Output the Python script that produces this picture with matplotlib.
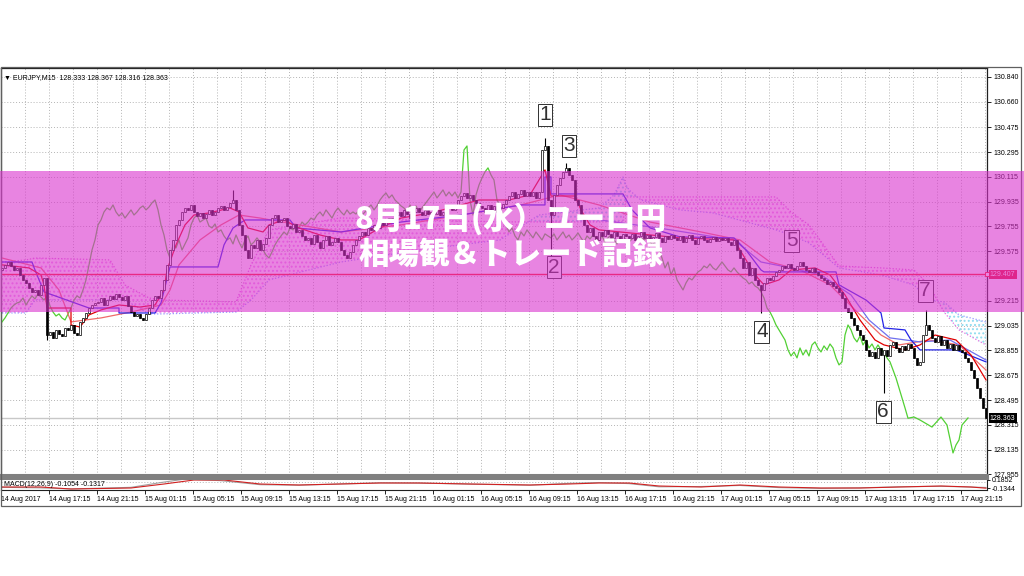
"""
plot.py

Redraws the EURJPY M15 screenshot (14-17 Aug 2017) with the pink
title band on top. All prices were read off the picture by eye.
"""
import numpy as np
import matplotlib
matplotlib.use("Agg")
import matplotlib.pyplot as plt
from matplotlib.patches import Rectangle

W, H = 1024, 576

# --- candles: M15 closes, one row = 4 hours = 16 bars ---
closes = [
    129.454, 129.476, 129.497, 129.468, 129.439, 129.454, 129.403, 129.367, 129.345, 129.309, 129.280, 129.294, 129.258, 129.331, 129.381, 128.967,
    128.990, 128.945, 129.004, 128.975, 128.960, 129.018, 129.004, 129.040, 128.982, 128.967, 129.062, 129.091, 129.127, 129.163, 129.185, 129.200,
    129.207, 129.236, 129.185, 129.221, 129.251, 129.229, 129.265, 129.243, 129.221, 129.251, 129.178, 129.134, 129.105, 129.120, 129.091, 129.076,
    129.120, 129.163, 129.221, 129.251, 129.236, 129.294, 129.367, 129.476, 129.584, 129.657, 129.766, 129.802, 129.860, 129.889, 129.875, 129.911,
    129.860, 129.831, 129.853, 129.816, 129.845, 129.875, 129.838, 129.860, 129.889, 129.904, 129.875, 129.896, 129.926, 129.947, 129.875, 129.766,
    129.693, 129.584, 129.526, 129.621, 129.599, 129.657, 129.584, 129.628, 129.672, 129.766, 129.816, 129.838, 129.787, 129.802, 129.816, 129.758,
    129.744, 129.773, 129.715, 129.730, 129.686, 129.657, 129.672, 129.628, 129.693, 129.642, 129.599, 129.657, 129.686, 129.621, 129.642, 129.672,
    129.642, 129.584, 129.548, 129.526, 129.570, 129.621, 129.657, 129.686, 129.715, 129.693, 129.744, 129.730, 129.766, 129.744, 129.787, 129.766,
    129.787, 129.816, 129.802, 129.838, 129.860, 129.831, 129.875, 129.845, 129.816, 129.860, 129.889, 129.860, 129.838, 129.875, 129.845, 129.860,
    129.845, 129.875, 129.838, 129.860, 129.889, 129.911, 129.875, 129.904, 129.947, 129.976, 129.998, 129.962, 129.984, 129.947, 129.926, 129.904,
    129.889, 129.860, 129.911, 129.875, 129.904, 129.860, 129.889, 129.918, 129.947, 129.976, 130.005, 129.962, 129.991, 130.020, 129.976, 130.005,
    129.976, 130.005, 129.962, 130.005, 130.310, 130.339, 129.947, 129.838, 129.984, 130.056, 130.107, 130.151, 130.180, 130.129, 130.092, 129.947,
    129.911, 129.816, 129.766, 129.715, 129.744, 129.686, 129.657, 129.715, 129.686, 129.730, 129.701, 129.672, 129.715, 129.686, 129.657, 129.701,
    129.686, 129.672, 129.701, 129.657, 129.686, 129.715, 129.672, 129.693, 129.657, 129.679, 129.708, 129.672, 129.642, 129.686, 129.664, 129.693,
    129.672, 129.657, 129.686, 129.642, 129.672, 129.693, 129.657, 129.628, 129.672, 129.686, 129.657, 129.642, 129.664, 129.679, 129.650, 129.672,
    129.657, 129.672, 129.642, 129.621, 129.657, 129.584, 129.526, 129.454, 129.497, 129.403, 129.454, 129.367, 129.331, 129.294, 129.345, 129.381,
    129.367, 129.396, 129.425, 129.439, 129.468, 129.454, 129.483, 129.454, 129.439, 129.468, 129.497, 129.468, 129.439, 129.425, 129.454, 129.425,
    129.403, 129.381, 129.367, 129.338, 129.352, 129.323, 129.309, 129.280, 129.236, 129.163, 129.134, 129.091, 129.040, 129.004, 128.967, 128.931,
    128.859, 128.815, 128.844, 128.801, 128.873, 128.822, 128.859, 128.815, 128.895, 128.917, 128.873, 128.844, 128.888, 128.859, 128.902, 128.873,
    128.801, 128.750, 128.772, 128.967, 129.040, 129.004, 128.946, 128.917, 128.960, 128.895, 128.931, 128.873, 128.902, 128.859, 128.895, 128.859,
    128.844, 128.801, 128.772, 128.713, 128.655, 128.583, 128.510, 128.438, 128.363,
]
first_open = 129.440
spike_highs = {77: 130.020, 181: 130.397, 188: 130.216, 308: 129.149}
spike_lows = {15: 128.930, 183: 129.534, 253: 129.127, 294: 128.546}

# --- indicator lines, (bar, price) vertices ---
tenkan_bars = [0, 9, 13, 14, 15, 23, 23, 26, 29, 33, 39, 46, 51, 54, 55, 58, 61, 64, 69, 76, 79, 82, 87, 89, 94, 99,
               106, 113, 119, 126, 133, 143, 153, 159, 169, 176, 181, 183, 191, 193, 196, 199, 226, 244, 248, 251,
               254, 259, 263, 271, 276, 281, 286, 291, 294, 301, 306, 311, 318, 323, 328]
tenkan = [129.476, 129.454, 129.403, 129.331, 129.163, 129.163, 129.040, 129.025, 129.113, 129.149, 129.185, 129.170,
          129.185, 129.294, 129.439, 129.621, 129.766, 129.838, 129.853, 129.889, 129.860, 129.744, 129.715, 129.766,
          129.802, 129.744, 129.693, 129.657, 129.657, 129.744, 129.816, 129.853, 129.911, 129.947, 129.947, 129.984,
          130.165, 129.976, 129.976, 129.875, 129.766, 129.730, 129.672, 129.657, 129.512, 129.403, 129.331, 129.367,
          129.439, 129.454, 129.403, 129.258, 129.076, 128.931, 128.895, 128.859, 128.895, 128.967, 128.931, 128.822,
          128.641]

kijun_bars = [0, 10, 11, 14, 29, 39, 39, 51, 53, 56, 72, 74, 77, 81, 96, 98, 113, 133, 153, 173, 181, 181, 183, 183,
              207, 210, 216, 226, 244, 248, 253, 254, 278, 279, 288, 293, 294, 301, 303, 306, 318, 328]
kijun = [129.497, 129.497, 129.439, 129.280, 129.163, 129.163, 129.127, 129.127, 129.200, 129.461, 129.461, 129.621,
         129.744, 129.802, 129.802, 129.744, 129.715, 129.787, 129.838, 129.911, 129.911, 130.114, 130.114, 129.991,
         129.991, 129.875, 129.744, 129.679, 129.672, 129.584, 129.439, 129.425, 129.425, 129.331, 129.221, 129.127,
         129.018, 129.004, 128.931, 128.859, 128.859, 128.772]

ma_red_bars = [0, 13, 19, 23, 33, 43, 53, 56, 59, 66, 73, 79, 86, 99, 113, 133, 153, 173, 186, 199, 216, 233, 246,
               256, 266, 276, 286, 293, 299, 309, 319, 328]
ma_red = [129.526, 129.454, 129.294, 129.062, 129.091, 129.134, 129.185, 129.294, 129.476, 129.657, 129.766, 129.838,
          129.816, 129.766, 129.715, 129.766, 129.838, 129.911, 129.984, 129.911, 129.787, 129.715, 129.657, 129.497,
          129.439, 129.331, 129.113, 128.967, 128.895, 128.931, 128.895, 128.713]

ma_blue_bars = [200, 220, 244, 253, 263, 273, 283, 289, 296, 306, 316, 328]
ma_blue = [129.800, 129.740, 129.657, 129.497, 129.454, 129.403, 129.258, 129.076, 128.946, 128.917, 128.931, 128.786]

# chikou = closes shifted back 26 bars, plus the tail that runs past the data
chikou_shift = 26
chikou_tail_bars = [304, 306, 310, 313, 315, 317, 318, 319, 320, 322]
chikou_tail = [128.372, 128.350, 128.299, 128.372, 128.314, 128.111, 128.169, 128.205, 128.314, 128.365]

cloud_bars = [0, 8, 11, 36, 41, 49, 53, 78, 83, 89, 113, 139, 166, 179, 199, 204, 207, 208, 209, 213, 226, 237,
              258, 263, 269, 279, 293, 304, 309, 314, 319, 328]
span_b = [129.497, 129.512, 129.526, 129.512, 129.330, 129.236, 129.221, 129.207, 129.475, 129.730, 129.817, 129.802,
          129.788, 129.788, 129.788, 129.788, 129.788, 129.969, 129.969, 129.969, 129.969, 129.969, 129.969, 129.860,
          129.766, 129.468, 129.454, 129.439, 129.330, 129.134, 129.004, 128.895]
span_a = [129.127, 129.127, 129.221, 129.221, 129.221, 129.120, 129.120, 129.134, 129.221, 129.367, 129.497, 129.584,
          129.657, 129.838, 129.889, 129.984, 130.114, 130.056, 130.020, 129.947, 129.875, 129.853, 129.730, 129.693,
          129.635, 129.454, 129.403, 129.330, 129.221, 129.207, 129.113, 129.062]

hline_price = 129.407
bid_price = 128.363

# --- MACD sub-window ---
macd_bars = [0, 13, 23, 43, 53, 61, 73, 86, 99, 126, 139, 156, 176, 189, 199, 209, 219, 233, 246, 259, 273, 286,
             299, 313, 323, 328]
macd_main = [-0.100, -0.120, -0.160, -0.100, 0.080, 0.210, 0.150, 0.000, -0.020, 0.070, 0.060, 0.020, -0.020, 0.050,
             0.080, 0.040, -0.080, -0.070, -0.030, -0.110, -0.140, -0.120, -0.080, -0.060, -0.090, -0.105]
signal_bars = [0, 13, 23, 43, 54, 64, 74, 86, 99, 126, 139, 156, 176, 189, 199, 209, 219, 233, 246, 259, 273, 286,
               299, 313, 323, 328]
macd_signal = [-0.0875, -0.0875, -0.1625, -0.125, 0.025, 0.175, 0.175, 0.025, -0.0125, 0.0625, 0.0625, 0.025,
               -0.0125, 0.025, 0.0625, 0.0625, -0.05, -0.0875, -0.0125, -0.0875, -0.125, -0.125, -0.0875, -0.05,
               -0.0875, -0.132]

# --- axis labels ---
price_ticks = [130.840, 130.660, 130.475, 130.295, 130.115, 129.935, 129.755, 129.575, 129.395,
               129.215, 129.035, 128.855, 128.675, 128.495, 128.315, 128.135, 127.955]
hidden_tick = 129.395  # sits under the red price box in the screenshot
time_labels = ["14 Aug 2017", "14 Aug 17:15", "14 Aug 21:15", "15 Aug 01:15", "15 Aug 05:15", "15 Aug 09:15",
               "15 Aug 13:15", "15 Aug 17:15", "15 Aug 21:15", "16 Aug 01:15", "16 Aug 05:15", "16 Aug 09:15",
               "16 Aug 13:15", "16 Aug 17:15", "16 Aug 21:15", "17 Aug 01:15", "17 Aug 05:15", "17 Aug 09:15",
               "17 Aug 13:15", "17 Aug 17:15", "17 Aug 21:15"]
bars_per_label = 16

# trade markers written on the chart: (bar, price, text)
trade_marks = [(181, 130.564, "1"), (184, 129.460, "2"), (189, 130.339, "3"), (253.3, 128.989, "4"),
               (263.3, 129.650, "5"), (293.7, 128.409, "6"), (307.7, 129.287, "7")]

header = "\u25bc EURJPY,M15  128.333 128.367 128.316 128.363"
title_lines = ["8月17日(水）ユーロ円", "相場観＆トレード記録"]

SMALL = ["Liberation Sans", "DejaVu Sans"]
CJK = ["Noto Sans CJK JP", "DejaVu Sans"]


def fx(px):
    return px / W


def fy(px):
    return 1 - px / H


def main():
    plt.rcParams["font.family"] = SMALL
    plt.rcParams["hatch.linewidth"] = 0.9
    fig = plt.figure(figsize=(W / 100, H / 100), dpi=100)
    fig.patch.set_facecolor("white")

    n = len(closes)
    bars = np.arange(n)
    opens = [first_open] + closes[:-1]

    # main price window: x 1..987 px, y 68..475 px
    ax = fig.add_axes([fx(1), fy(475), fx(986), (475 - 68) / H])
    ax.set_xlim(-1 / 3, n - 1 + 1 / 3)
    ax.set_ylim(127.951, 130.905)

    grid_kw = dict(color="#b4b4b4", lw=0.7, ls=(0, (1, 2)))
    ax.set_xticks(np.arange(8, n, 8) - 1 / 3)
    ax.tick_params(axis="x", length=0, labelbottom=False)
    ax.set_yticks(price_ticks)
    ax.set_yticklabels(["" if p == hidden_tick else f"{p:.3f}" for p in price_ticks])
    ax.yaxis.tick_right()
    ax.tick_params(axis="y", length=3, width=0.6, pad=1.5, labelsize=5)
    ax.grid(True, **grid_kw)
    ax.set_axisbelow(True)
    for side in ("left", "top", "right"):
        ax.spines[side].set_color("#202020")
        ax.spines[side].set_linewidth(0.9)
    ax.spines["bottom"].set_color("#808080")
    ax.spines["bottom"].set_linewidth(2.2)

    # --- ichimoku cloud ---
    a = np.array(span_a)
    b = np.array(span_b)
    ax.fill_between(cloud_bars, a, b, where=b >= a, interpolate=True, facecolor="none",
                    edgecolor="#f09af0", hatch="....", linewidth=0, zorder=1)
    ax.fill_between(cloud_bars, a, b, where=a > b, interpolate=True, facecolor="none",
                    edgecolor="#8fdcf0", hatch="....", linewidth=0, zorder=1)
    ax.plot(cloud_bars, span_b, color="#e070e0", lw=0.9, ls=(0, (1, 1.5)), zorder=2)
    ax.plot(cloud_bars, span_a, color="#9a9aff", lw=0.9, ls=(0, (1, 1.5)), zorder=2)

    # --- lines ---
    chikou_x = list(bars[chikou_shift:] - chikou_shift) + chikou_tail_bars
    chikou_y = closes[chikou_shift:] + chikou_tail
    ax.plot(chikou_x, chikou_y, color="#52d034", lw=0.9, zorder=3)
    ax.plot(ma_red_bars, ma_red, color="#f06a6a", lw=0.9, zorder=3)
    ax.plot(ma_blue_bars, ma_blue, color="#7070ee", lw=0.9, zorder=3)
    ax.plot(kijun_bars, kijun, color="#2424e6", lw=0.9, zorder=3)
    ax.plot(tenkan_bars, tenkan, color="#e00000", lw=0.9, zorder=3)

    ax.axhline(hline_price, color="#ff1c1c", lw=1.0, zorder=3)
    ax.plot(n - 1 + 1 / 3, hline_price, marker="s", ms=3, mfc="white", mec="#ff1c1c", mew=0.7,
            clip_on=False, zorder=6)
    ax.axhline(bid_price, color="#c8c8c8", lw=1.0, zorder=2)

    # --- candles ---
    for i in bars:
        o, c = opens[i], closes[i]
        hi = max(o, c, spike_highs.get(i, c))
        lo = min(o, c, spike_lows.get(i, c))
        ax.vlines(i, lo, hi, color="black", lw=0.8, zorder=4)
        bull = c >= o
        ax.bar(i, max(abs(c - o), 0.003), bottom=min(o, c), width=0.62,
               color="white" if bull else "black", edgecolor="black", lw=0.5, zorder=5)

    # --- trade markers ---
    for bx, py, txt in trade_marks:
        ax.text(bx, py, txt, ha="center", va="center", fontsize=15, color="#303030",
                family=["Liberation Sans Narrow", "Liberation Sans", "DejaVu Sans"],
                bbox=dict(boxstyle="square,pad=0.08", fc="white", ec="#303030", lw=0.7), zorder=7)

    # --- price boxes on the axis ---
    ytr = ax.get_yaxis_transform()
    ax.text(1.003, hline_price, f"{hline_price:.3f}", transform=ytr, fontsize=5, color="white",
            va="center", ha="left", clip_on=False, zorder=10,
            bbox=dict(boxstyle="square,pad=0.2", fc="#e8142c", ec="none"))
    ax.text(1.003, bid_price, f"{bid_price:.3f}", transform=ytr, fontsize=5, color="white",
            va="center", ha="left", clip_on=False, zorder=10,
            bbox=dict(boxstyle="square,pad=0.2", fc="black", ec="none"))
    ax.text(0.003, 0.985, header, transform=ax.transAxes, fontsize=5, va="top", ha="left",
            family=SMALL, zorder=8)

    # --- MACD sub-window: y 478..490 px ---
    ax2 = fig.add_axes([fx(1), fy(490), fx(986), 12 / H])
    ax2.set_xlim(ax.get_xlim())
    ax2.set_ylim(-0.20, 0.25)
    ax2.axhline(0.1, **grid_kw)
    ax2.plot(macd_bars, macd_main, color="#a0a0a0", lw=0.8)
    ax2.plot(signal_bars, macd_signal, color="#d02020", lw=0.8)
    ax2.set_xticks(np.arange(len(time_labels)) * bars_per_label - 1 / 3)
    ax2.set_xticklabels(time_labels, ha="left", fontsize=5)
    ax2.tick_params(axis="x", length=3, width=0.6, pad=1.5)
    ax2.yaxis.tick_right()
    ax2.set_yticks([0.1852, -0.1344])
    ax2.set_yticklabels(["0.1852", "-0.1344"])
    ax2.tick_params(axis="y", length=2, width=0.6, pad=1.5, labelsize=5)
    for side in ("left", "right", "bottom"):
        ax2.spines[side].set_color("#202020")
        ax2.spines[side].set_linewidth(0.8)
    ax2.spines["top"].set_color("#808080")
    ax2.spines["top"].set_linewidth(2.2)
    ax2.text(0.003, 0.5, "MACD(12,26,9) -0.1054 -0.1317", transform=ax2.transAxes,
             fontsize=5, va="center", ha="left")

    # outer window frame
    fig.add_artist(Rectangle((fx(0.5), fy(506)), fx(1020.5), (506 - 67) / H, transform=fig.transFigure,
                             fill=False, ec="#606060", lw=0.9, zorder=4))

    # --- pink title band over everything ---
    fig.add_artist(Rectangle((0, fy(312)), 1, (312 - 171) / H, transform=fig.transFigure,
                             fc=(218 / 255, 50 / 255, 205 / 255), ec="none", alpha=0.6, zorder=20))
    for line, ypx in zip(title_lines, (219, 254)):
        fig.text(fx(511), fy(ypx), line, ha="center", va="center", fontsize=22,
                 fontweight=900, color="white", family=CJK, zorder=21)

    fig.savefig("out.png", dpi=100, facecolor="white")


if __name__ == "__main__":
    main()
